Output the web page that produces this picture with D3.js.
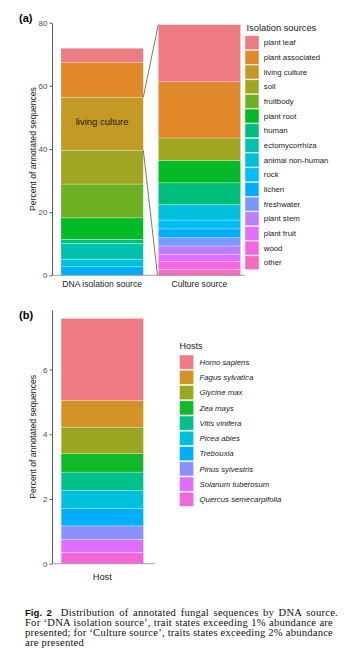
<!DOCTYPE html>
<html><head><meta charset="utf-8">
<script src="https://cdn.jsdelivr.net/npm/d3@7"></script>
<style>html,body{margin:0;padding:0;background:#fff;}svg{display:block;}</style>
</head><body>
<svg id="c" width="358" height="666"></svg>
<script>
// ---------- data ----------
const isoSources = ["plant leaf","plant associated","living culture","soil","fruitbody","plant root","human","ectomycorrhiza","animal non-human","rock","lichen","freshwater","plant stem","plant fruit","wood","other"];
const isoColors = ["#EE7A84","#E0882A","#C39A24","#A1A622","#6DB023","#00BB26","#00BE7A","#00C0AE","#00BFDA","#00BDFF","#00AEFF","#7898FF","#B880FF","#E46EFF","#F466E2","#F56CBC"];
const barCategories = ["DNA isolation source","Culture source"];
const dnaValues     = [4.4, 11.1, 16.8, 10.7, 10.7, 6.8, 1.3, 5.0, 2.4, 0, 2.7, 0, 0, 0, 0, 0];
const cultureValues = [18.1, 17.8, 0, 7.1, 0, 7.1, 6.9, 0, 4.9, 2.8, 2.8, 2.6, 2.6, 2.4, 2.4, 1.9];
const yTicksA = [0, 20, 40, 60, 80];

const hosts = ["Homo sapiens","Fagus sylvatica","Glycine max","Zea mays","Vitis vinifera","Picea abies","Trebouxia","Pinus sylvestris","Solanum tuberosum","Quercus semecarpifolia"];
const hostColors = ["#EF7A83","#D29225","#9AA723","#10B928","#00C08B","#00C0DB","#00B0F6","#8891FF","#DD6EFF","#F566DB"];
const hostCategory = ["Host"];
const hostValues = [2.53, 0.83, 0.82, 0.57, 0.57, 0.56, 0.53, 0.42, 0.40, 0.35];
const yTicksB = [0, 2, 4, 6];

const captionLines = [
  "Distribution of annotated fungal sequences by DNA source.",
  "For \u2018DNA isolation source\u2019, trait states exceeding 1% abundance are",
  "presented; for \u2018Culture source\u2019, traits states exceeding 2% abundance",
  "are presented"
];

// ---------- drawing ----------
const svg = d3.select("#c");
const sans = "Liberation Sans, Arial, Helvetica, sans-serif";
const axisCol = "#333";
const tickTxt = "#4d4d4d";

function drawAxisY(g, y, ticks, x0) {
  const ax = g.append("g").attr("transform", `translate(${x0},0)`)
    .call(d3.axisLeft(y).tickValues(ticks).tickSize(2.5).tickPadding(2).tickSizeOuter(0));
  ax.select(".domain").attr("stroke", axisCol).attr("stroke-width", 0.8);
  ax.selectAll(".tick line").attr("stroke", axisCol).attr("stroke-width", 0.8);
  ax.selectAll(".tick text").attr("fill", tickTxt).attr("font-size", 8).attr("font-family", sans);
  return ax;
}

// ===== Panel (a) =====
const gA = svg.append("g");
const yA = d3.scaleLinear().domain([0, 80]).range([275.3, 22.7]);
const xA = d3.scaleBand().domain(barCategories).range([52, 249.6]).paddingInner(0.154).paddingOuter(0.0925);

const rowsA = barCategories.map((c, i) => {
  const r = {cat: c};
  isoSources.forEach((s, j) => r[s] = (i === 0 ? dnaValues : cultureValues)[j]);
  return r;
});
const stackA = d3.stack().keys(isoSources.slice().reverse())(rowsA);
const colA = d3.scaleOrdinal().domain(isoSources).range(isoColors);

stackA.forEach(layer => {
  gA.selectAll(null).data(layer.filter(d => d[1] - d[0] > 0)).enter().append("rect")
    .attr("x", d => xA(d.data.cat))
    .attr("width", xA.bandwidth())
    .attr("y", d => yA(d[1]))
    .attr("height", d => yA(d[0]) - yA(d[1]))
    .attr("fill", colA(layer.key))
    .attr("stroke", "rgba(255,255,255,0.45)")
    .attr("stroke-width", 0.6);
});

// label living culture
const lcLayer = stackA.find(l => l.key === "living culture")[0];
gA.append("text").attr("x", xA(barCategories[0]) + xA.bandwidth() / 2)
  .attr("y", yA((lcLayer[0] + lcLayer[1]) / 2)).attr("dy", "0.1em")
  .attr("text-anchor", "middle").attr("font-family", sans).attr("font-size", 9.5).attr("fill", "#1a1a1a")
  .text("living culture");

// connector lines
const cultTotal = d3.sum(cultureValues);
const xDnaR = xA(barCategories[0]) + xA.bandwidth();
const xCulL = xA(barCategories[1]);
gA.append("line").attr("x1", xDnaR).attr("y1", yA(lcLayer[1])).attr("x2", xCulL).attr("y2", yA(cultTotal))
  .attr("stroke", "#555").attr("stroke-width", 0.8);
gA.append("line").attr("x1", xDnaR).attr("y1", yA(lcLayer[0])).attr("x2", xCulL - 0.8).attr("y2", yA(0))
  .attr("stroke", "#555").attr("stroke-width", 0.8);

drawAxisY(gA, yA, yTicksA, 52);
gA.append("line").attr("x1", 52).attr("x2", 244.5).attr("y1", yA(0)).attr("y2", yA(0))
  .attr("stroke", "#888").attr("stroke-width", 0.8);
barCategories.forEach(c => {
  gA.append("text").attr("x", xA(c) + xA.bandwidth() / 2).attr("y", 286.5)
    .attr("text-anchor", "middle").attr("font-family", sans).attr("font-size", 8.6).attr("fill", "#1a1a1a").text(c);
});
gA.append("text").attr("transform", `translate(35.5,${(yA(0) + yA(80)) / 2}) rotate(-90)`)
  .attr("text-anchor", "middle").attr("font-family", sans).attr("font-size", 8.6).attr("fill", "#1a1a1a")
  .text("Percent of annotated sequences");
gA.append("text").attr("x", 19).attr("y", 22).attr("font-family", sans).attr("font-weight", "bold").attr("font-size", 11).text("(a)");

// legend a
const legA = gA.append("g");
legA.append("text").attr("x", 246.5).attr("y", 30.5).attr("font-family", sans).attr("font-size", 9.3).attr("fill", "#1a1a1a").text("Isolation sources");
isoSources.forEach((s, i) => {
  const ty = 35.7 + i * 14.67;
  legA.append("rect").attr("x", 245).attr("y", ty).attr("width", 14).attr("height", 14)
    .attr("fill", colA(s)).attr("stroke", "rgba(255,255,255,0.6)").attr("stroke-width", 0.8);
  legA.append("text").attr("x", 263.8).attr("y", ty + 7).attr("dy", "0.35em")
    .attr("font-family", sans).attr("font-size", 7.8).attr("fill", "#1a1a1a").text(s);
});

// ===== Panel (b) =====
const gB = svg.append("g");
const yB = d3.scaleLinear().domain([0, 7.84]).range([563.7, 310]);
const xB = d3.scaleBand().domain(hostCategory).range([52, 152.6]).paddingInner(0.1).paddingOuter(0.1);
const rowB = {cat: hostCategory[0]};
hosts.forEach((h, j) => rowB[h] = hostValues[j]);
const stackB = d3.stack().keys(hosts.slice().reverse())([rowB]);
const colB = d3.scaleOrdinal().domain(hosts).range(hostColors);
stackB.forEach(layer => {
  gB.selectAll(null).data(layer).enter().append("rect")
    .attr("x", d => xB(d.data.cat))
    .attr("width", xB.bandwidth())
    .attr("y", d => yB(d[1]))
    .attr("height", d => yB(d[0]) - yB(d[1]))
    .attr("fill", colB(layer.key))
    .attr("stroke", "rgba(255,255,255,0.45)")
    .attr("stroke-width", 0.6);
});
drawAxisY(gB, yB, yTicksB, 52);
gB.append("line").attr("x1", 52).attr("x2", 155).attr("y1", yB(0)).attr("y2", yB(0))
  .attr("stroke", "#888").attr("stroke-width", 0.8);
gB.append("text").attr("x", xB(hostCategory[0]) + xB.bandwidth() / 2).attr("y", 579.5)
  .attr("text-anchor", "middle").attr("font-family", sans).attr("font-size", 9.3).attr("fill", "#1a1a1a").text(hostCategory[0]);
gB.append("text").attr("transform", `translate(35.5,${(yB(0) + 310) / 2}) rotate(-90)`)
  .attr("text-anchor", "middle").attr("font-family", sans).attr("font-size", 8.6).attr("fill", "#1a1a1a")
  .text("Percent of annotated sequences");
gB.append("text").attr("x", 19).attr("y", 319).attr("font-family", sans).attr("font-weight", "bold").attr("font-size", 11).text("(b)");

const legB = gB.append("g");
legB.append("text").attr("x", 179.5).attr("y", 348.5).attr("font-family", sans).attr("font-size", 9).attr("fill", "#1a1a1a").text("Hosts");
hosts.forEach((h, i) => {
  const ty = 355 + i * 15.25;
  legB.append("rect").attr("x", 179.5).attr("y", ty).attr("width", 14.2).attr("height", 14.2)
    .attr("fill", colB(h)).attr("stroke", "rgba(255,255,255,0.6)").attr("stroke-width", 0.8);
  legB.append("text").attr("x", 199.5).attr("y", ty + 7.1).attr("dy", "0.35em")
    .attr("font-family", sans).attr("font-style", "italic").attr("font-size", 7.8).attr("fill", "#1a1a1a").text(h);
});

// ===== Caption (justified via word-spacing) =====
const serif = "Liberation Serif, Times New Roman, serif";
const capBase = [615.5, 625.8, 636.1, 646.4];
const capWidth = 308;
captionLines.forEach((line, i) => {
  const t = svg.append("text").attr("x", 25).attr("y", capBase[i]).attr("font-family", serif)
    .attr("font-size", 10.6).attr("letter-spacing", 0.22).attr("fill", "#111");
  if (i === 0) {
    t.append("tspan").attr("font-family", sans).attr("font-weight", "bold").attr("font-size", 9.6).attr("letter-spacing", 0).text("Fig.\u00a02");
    t.append("tspan").text("\u00a0\u00a0" + line);
  } else {
    t.text(line);
  }
  if (i < 3) {
    const len = t.node().getComputedTextLength();
    const nSpaces = (line.match(/ /g) || []).length;
    if (nSpaces > 0) t.attr("word-spacing", (capWidth - len) / nSpaces);
  }
});
</script>
</body></html>
